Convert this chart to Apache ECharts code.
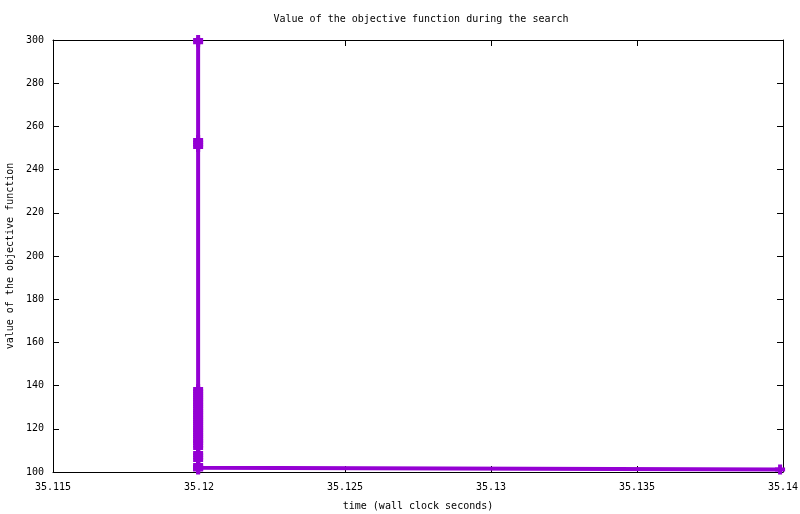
<!DOCTYPE html>
<html>
<head>
<meta charset="utf-8">
<script src="https://cdn.jsdelivr.net/npm/echarts@6/dist/echarts.min.js"></script>
<style>html,body{margin:0;padding:0;background:#fff}#c{width:800px;height:514px}</style>
</head>
<body>
<div id="c"></div>
<script>
const titleText = 'Value of the objective function during the search';
const xName = 'time (wall clock seconds)';
const yName = 'value of the objective function';
const values = [
  300, 299, 253.7, 252.6, 251.6, 250.5, 138.4, 137.4, 136.4, 135.4,
  134.4, 133.4, 132.4, 131.4, 130.4, 129.4, 128.4, 127.4, 126.4, 125.4,
  124.4, 123.4, 122.4, 121.4, 120.4, 119.4, 118.4, 117.4, 116.4, 115.4,
  114.4, 113.4, 112.3, 111.1, 108.8, 107.8, 106.7, 105.6, 103.2, 102.6,
  102.0, 101.4, 101.1, 101.1
];
const times = [
  35.11997, 35.11997, 35.11997, 35.11997, 35.11997, 35.11997, 35.11997, 35.11997, 35.11997, 35.11997,
  35.11997, 35.11997, 35.11997, 35.11997, 35.11997, 35.11997, 35.11997, 35.11997, 35.11997, 35.11997,
  35.11997, 35.11997, 35.11997, 35.11997, 35.11997, 35.11997, 35.11997, 35.11997, 35.11997, 35.11997,
  35.11997, 35.11997, 35.11997, 35.11997, 35.11997, 35.11997, 35.11997, 35.11997, 35.11997, 35.11997,
  35.11997, 35.11997, 35.11997, 35.1399
];
const xMin = 35.115, xMax = 35.14, xStep = 0.005;
const yMin = 100, yMax = 300, yStep = 20;

const data = times.map((t, i) => [t, values[i]]);
const font = 'DejaVu Sans Mono';
const fmtX = v => String(parseFloat(v.toFixed(3)));
const chart = echarts.init(document.getElementById('c'), null, {renderer: 'canvas'});
const axisCommon = {
  axisLine: {show: true, lineStyle: {color: '#000', width: 1}},
  axisTick: {show: true, inside: true, length: 6, lineStyle: {color: '#000'}},
  splitLine: {show: false}
};
chart.setOption({
  animation: false,
  backgroundColor: '#fff',
  title: {text: titleText, left: 416, top: 9, textAlign: 'center',
    textStyle: {fontFamily: font, fontSize: 10, fontWeight: 'normal', color: '#000'}},
  grid: {left: 53, right: 17, top: 40, bottom: 42, containLabel: false, outerBoundsMode: 'none'},
  xAxis: [
    Object.assign({type: 'value', min: xMin, max: xMax, interval: xStep, position: 'bottom',
      name: xName, nameLocation: 'middle', nameGap: 29,
      nameTextStyle: {fontFamily: font, fontSize: 10, color: '#000'},
      axisLabel: {formatter: fmtX, fontFamily: font, fontSize: 10, color: '#000', margin: 10}}, axisCommon),
    Object.assign({type: 'value', min: xMin, max: xMax, interval: xStep, position: 'top',
      axisLabel: {show: false}}, axisCommon)
  ],
  yAxis: [
    Object.assign({type: 'value', min: yMin, max: yMax, interval: yStep, position: 'left',
      name: yName, nameLocation: 'middle', nameGap: 38, nameRotate: 90,
      nameTextStyle: {fontFamily: font, fontSize: 10, color: '#000'},
      axisLabel: {fontFamily: font, fontSize: 10, color: '#000', margin: 9}}, axisCommon),
    Object.assign({type: 'value', min: yMin, max: yMax, interval: yStep, position: 'right',
      axisLabel: {show: false}}, axisCommon)
  ],
  series: [{
    type: 'line',
    xAxisIndex: 0, yAxisIndex: 0,
    data: data,
    clip: false,
    lineStyle: {color: '#9400D3', width: 4},
    itemStyle: {color: '#9400D3'},
    symbol: 'path://M3,0H7V3H10V7H7V10H3V7H0V3H3Z',
    symbolSize: 10,
    showAllSymbol: true,
    emphasis: {disabled: true}
  }]
});
</script>
</body>
</html>
